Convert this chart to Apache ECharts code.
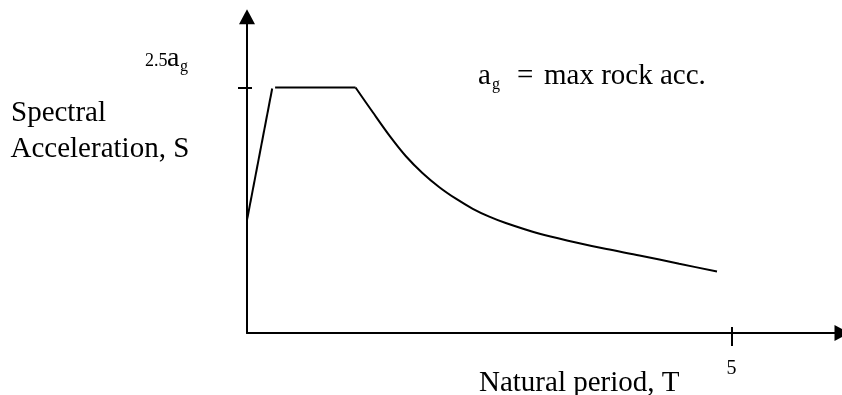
<!DOCTYPE html>
<html><head><meta charset="utf-8">
<script src="https://cdn.jsdelivr.net/npm/echarts@6/dist/echarts.min.js"></script>
<style>html,body{margin:0;padding:0;background:#fff}#c{width:842px;height:395px}</style>
</head><body><div id="c"></div>
<script>
// Rising branch (T, S/ag)
const riseT = [0, 0.26];
const riseS = [1.15, 2.49];
// Plateau
const plateauT = [0.29, 1.12];
const plateauS = [2.5, 2.5];
// Decaying branch
const decayT = [1.12, 1.30, 1.47, 1.64, 1.81, 1.985, 2.16, 2.33, 2.50, 2.67, 3.02, 3.36, 3.71, 4.05, 4.46, 4.85];
const decayS = [2.5, 2.245, 2.01, 1.80, 1.63, 1.485, 1.365, 1.265, 1.185, 1.12, 1.01, 0.93, 0.855, 0.79, 0.705, 0.627];
// Axes
const xTicks = [5];
const xTickLabels = ['5'];
const yTicks = [2.5];
const yTickLabelParts = ['2.5', 'a', 'g'];
const xTitle = 'Natural period, T';
const yTitle = ['Spectral', 'Acceleration, S'];
const noteParts = ['a', 'g', '=', 'max rock acc.'];
const xMax = 6.14, yMax = 3.22;

const FONT = '"Liberation Serif","Times New Roman",serif';
const black = '#000';
function txt(s, x, base, size) {
  return { type: 'text', x: x, y: base - 0.3375 * size, silent: true,
    style: { text: s, font: size + 'px ' + FONT, fill: black, align: 'left', verticalAlign: 'middle' } };
}
function pairs(a, b) { return a.map((t, i) => [t, b[i]]); }
const gridBox = { left: 247, top: 16.8, width: 595.6, height: 316.2 };
const tickStyle = { color: black, width: 2 };
const lineBase = { type: 'line', xAxisIndex: 0, yAxisIndex: 0, symbol: 'none', silent: true,
  lineStyle: { color: black, width: 2 } };

const chart = echarts.init(document.getElementById('c'), null, { renderer: 'canvas' });
chart.setOption({
  animation: false,
  backgroundColor: '#fff',
  grid: [Object.assign({}, gridBox), Object.assign({}, gridBox)],
  xAxis: [
    { type: 'value', gridIndex: 0, min: 0, max: xMax,
      axisLine: { show: true, symbol: ['none', 'triangle'], symbolSize: [16, 15], lineStyle: { color: black, width: 2 } },
      axisTick: { show: true, customValues: xTicks, length: 13, lineStyle: tickStyle },
      axisLabel: { show: true, customValues: xTicks, margin: 26, fontSize: 20, fontFamily: FONT, color: black,
        formatter: v => xTickLabels[xTicks.indexOf(v)] },
      splitLine: { show: false } },
    { type: 'value', gridIndex: 1, min: 0, max: xMax,
      axisLine: { show: false },
      axisTick: { show: true, inside: true, customValues: xTicks, length: 6, lineStyle: tickStyle },
      axisLabel: { show: false }, splitLine: { show: false } }
  ],
  yAxis: [
    { type: 'value', gridIndex: 0, min: 0, max: yMax,
      axisLine: { show: true, symbol: ['none', 'triangle'], symbolSize: [16, 15], lineStyle: { color: black, width: 2 } },
      axisTick: { show: true, customValues: yTicks, length: 9, lineStyle: tickStyle },
      axisLabel: { show: false },
      splitLine: { show: false } },
    { type: 'value', gridIndex: 1, min: 0, max: yMax,
      axisLine: { show: false },
      axisTick: { show: true, inside: true, customValues: yTicks, length: 5, lineStyle: tickStyle },
      axisLabel: { show: false }, splitLine: { show: false } }
  ],
  series: [
    Object.assign({}, lineBase, { data: pairs(riseT, riseS) }),
    Object.assign({}, lineBase, { data: pairs(plateauT, plateauS) }),
    Object.assign({}, lineBase, { smooth: 0.3, data: pairs(decayT, decayS) })
  ],
  graphic: [
    txt(yTitle[0], 11, 123, 29),
    txt(yTitle[1], 10.5, 159, 29),
    txt(yTickLabelParts[0], 145, 67.5, 18),
    txt(yTickLabelParts[1], 167, 68, 28),
    txt(yTickLabelParts[2], 180, 72.5, 16),
    txt(noteParts[0], 478, 86.5, 29),
    txt(noteParts[1], 492, 90.5, 16),
    txt(noteParts[2], 517, 86.5, 29),
    txt(noteParts[3], 544, 86.5, 29),
    txt(xTitle, 479, 393, 29)
  ]
});
</script></body></html>
